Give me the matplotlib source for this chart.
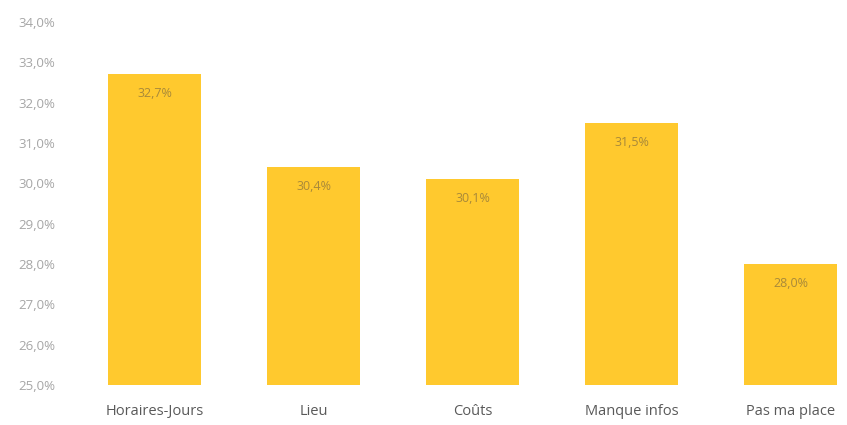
import matplotlib
matplotlib.use("Agg")
import matplotlib.pyplot as plt
from matplotlib.ticker import FuncFormatter

categories = ["Horaires-Jours", "Lieu", "Coûts", "Manque infos", "Pas ma place"]
valeurs = [32.7, 30.4, 30.1, 31.5, 28.0]
yticks = [25, 26, 27, 28, 29, 30, 31, 32, 33, 34]

plt.rcParams['font.family'] = ['Open Sans', 'DejaVu Sans']

fig = plt.figure(figsize=(8.47, 4.25), dpi=100)
ax = fig.add_axes([75 / 847, 40 / 425, 772 / 847, 363 / 425])

x = range(len(categories))
ax.bar(x, [v - 25 for v in valeurs], bottom=25, width=0.585, color='#FFC92E')

for i, v in zip(x, valeurs):
    ax.annotate(f"{v:.1f}%".replace('.', ','), (i, v), xytext=(0, -14),
                textcoords='offset points', ha='center', va='center',
                fontsize=9, color='#a8893a')

ax.set_ylim(25, 34)
ax.set_xlim(-0.5, 4.355)
ax.set_yticks(yticks)
ax.yaxis.set_major_formatter(FuncFormatter(lambda v, p: f"{v:.1f}%".replace('.', ',')))
ax.set_xticks(list(x))
ax.set_xticklabels(categories, fontsize=10.5, color='#595959')
ax.tick_params(axis='y', labelsize=9.5, labelcolor='#a6a6a6', length=0, pad=14)
ax.tick_params(axis='x', length=0, pad=14)
for s in ax.spines.values():
    s.set_visible(False)

fig.savefig("out.png", dpi=100)
